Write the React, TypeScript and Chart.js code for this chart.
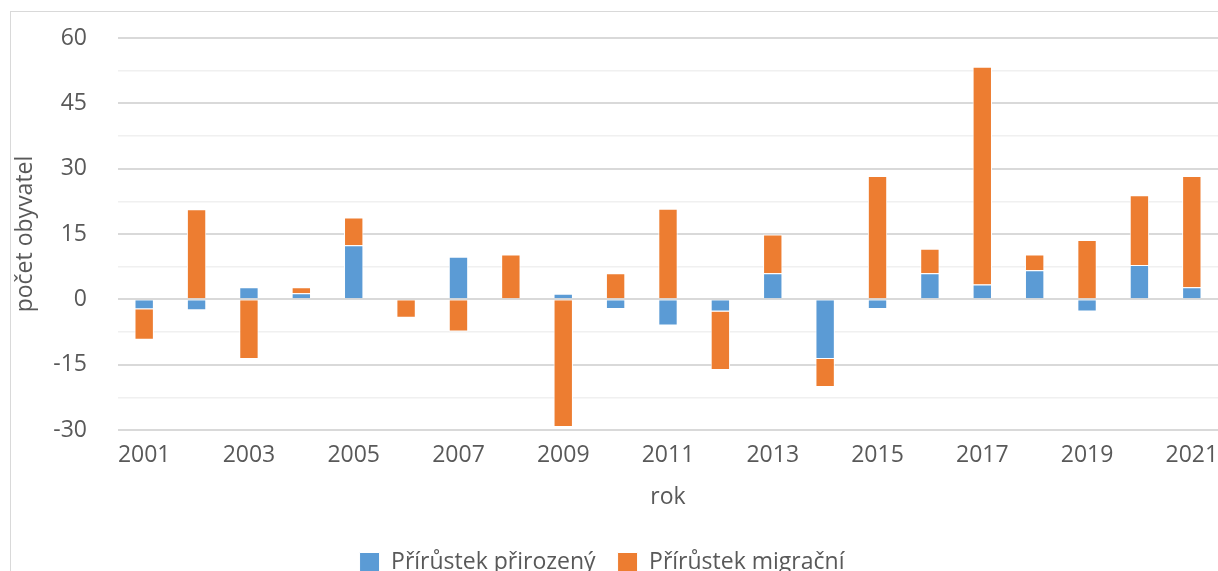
import React, { useEffect, useRef } from "react";
import { Chart, registerables } from "chart.js";
Chart.register(...registerables);

const years = [
  "2001", "2002", "2003", "2004", "2005", "2006", "2007", "2008", "2009", "2010", "2011",
  "2012", "2013", "2014", "2015", "2016", "2017", "2018", "2019", "2020", "2021",
];
const natural = [-2.3, -2.5, 2.8, 1.4, 12.4, 0, 9.8, 0, 1.3, -2.2, -6, -2.8, 6, -13.7, -2.2, 6, 3.4, 6.7, -2.8, 7.9, 2.8];
const migration = [-7, 20.7, -13.7, 1.4, 6.4, -4.2, -7.4, 10.3, -29.3, 6, 20.8, -13.4, 8.9, -6.4, 28.3, 5.6, 50, 3.6, 13.6, 16, 25.5];
const seriesNames = ["Přírůstek přirozený", "Přírůstek migrační"];
const yMin = -30;
const yMax = 60;
const yMajorStep = 15;

const legendShift = {
  id: "legendShift",
  afterLayout(chart: any) {
    if (chart.legend) {
      chart.legend.left -= 7;
      chart.legend.right -= 7;
    }
  },
};

export default function App() {
  const ref = useRef<HTMLCanvasElement>(null);
  useEffect(() => {
    const font = { family: "'Open Sans', sans-serif", size: 23 };
    const textColor = "#595959";
    const chart = new Chart(ref.current!, {
      type: "bar",
      data: {
        labels: years,
        datasets: [
          { label: seriesNames[0], data: natural, backgroundColor: "#5b9bd5", borderColor: "#ffffff", borderWidth: 1, barPercentage: 0.37, categoryPercentage: 1 },
          { label: seriesNames[1], data: migration, backgroundColor: "#ed7d31", borderColor: "#ffffff", borderWidth: 1, barPercentage: 0.37, categoryPercentage: 1 },
        ],
      },
      plugins: [legendShift],
      options: {
        responsive: false,
        animation: false,
        layout: { padding: { top: 38, right: 22, left: 0, bottom: 0 } },
        scales: {
          x: {
            stacked: true,
            grid: { display: false },
            border: { display: false },
            ticks: {
              autoSkip: false,
              maxRotation: 0,
              padding: 4,
              font,
              color: textColor,
              callback: (_v: any, i: number) => (i % 2 === 0 ? years[i] : ""),
            },
            title: { display: true, text: "rok", font, color: textColor, padding: { top: 2, bottom: 18 } },
            afterFit: (s: any) => { s.height = 99; },
          },
          y: {
            stacked: true,
            min: yMin,
            max: yMax,
            ticks: {
              stepSize: yMajorStep / 2,
              padding: 31,
              font,
              color: textColor,
              callback: (v: any) => (Number(v) % yMajorStep === 0 ? String(v) : ""),
            },
            grid: {
              drawTicks: false,
              color: (ctx: any) => (ctx.tick && ctx.tick.value % yMajorStep === 0 ? "#d9d9d9" : "#f0f0f0"),
              lineWidth: (ctx: any) => (ctx.tick && ctx.tick.value % yMajorStep === 0 ? 2 : 1.5),
            },
            border: { display: false },
            title: { display: true, text: "počet obyvatel", font, color: textColor, padding: { top: 12, bottom: 0 } },
            afterFit: (s: any) => {
              s.width = 118;
              s.paddingTop = 0;
              s.paddingBottom = 0;
            },
          },
        },
        plugins: {
          legend: {
            position: "bottom",
            labels: { boxWidth: 20, boxHeight: 20, font, color: textColor, padding: 22 },
          },
          tooltip: { enabled: false },
        },
      },
    });
    return () => chart.destroy();
  }, []);
  return (
    <div style={{ position: "fixed", left: 0, top: 0, width: 1218, height: 571, overflow: "hidden", background: "#fff" }}>
      <canvas ref={ref} width={1240} height={584} style={{ display: "block", width: 1240, height: 584 }} />
      <div style={{ position: "absolute", left: 10, top: 11, width: 1400, height: 800, border: "1px solid #d9d9d9", pointerEvents: "none" }} />
    </div>
  );
}
